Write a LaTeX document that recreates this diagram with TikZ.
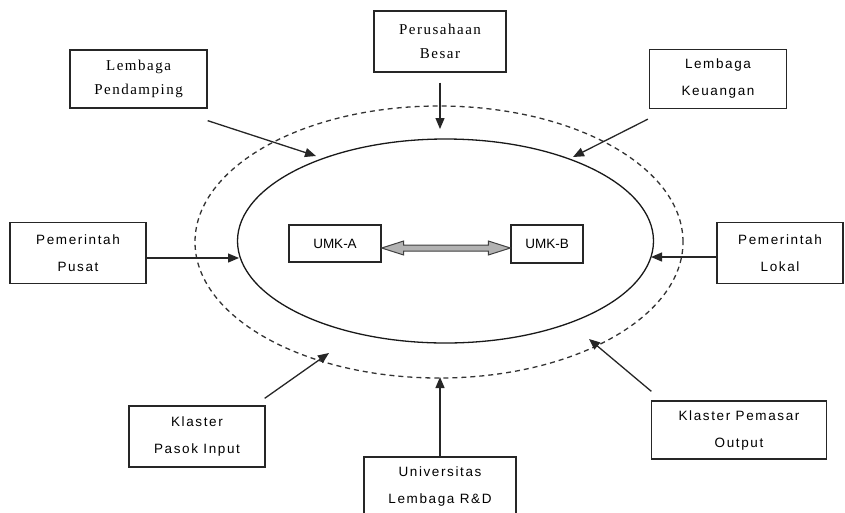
\documentclass[tikz,border=0pt]{standalone}
\usepackage{fontspec}
\setmainfont{Liberation Serif}
\newfontfamily\boxsans[LetterSpace=12]{Liberation Sans}
\newfontfamily\boxserif[LetterSpace=10]{Liberation Serif}
\usetikzlibrary{arrows.meta,shapes.geometric,calc}

\tikzset{
  box/.style={draw=black!85, line width=1.3pt, rectangle, inner sep=0pt,
    align=center, text=black, font=\boxsans\fontsize{13.5}{27}\selectfont},
  serifbox/.style={box, font=\boxserif\fontsize{15}{24}\selectfont},
  umk/.style={box, font=\fontspec{Liberation Sans}\fontsize{13.5}{16}\selectfont},
  ring/.style={draw=black!90, line width=1.3pt, ellipse, inner sep=0pt},
  outerring/.style={draw=black!80, line width=1.3pt, ellipse, inner sep=0pt,
    dash pattern=on 5pt off 4pt},
  arr/.style={draw=black!85, line width=1.3pt,
    -{Triangle[length=11pt,width=9pt]}},
  twoway/.style={draw=black!75, line width=1pt, fill=black!30, line join=miter}
}

\begin{document}
\begin{tikzpicture}[x=1pt,y=-1pt]
  \useasboundingbox (0,0) rectangle (845,512);

  % the two rings round the UMK pair
  \node[outerring, minimum width=488pt, minimum height=272pt] (outer) at (439,242) {};
  \node[ring, minimum width=416pt, minimum height=204pt] (inner) at (445.5,241) {};

  % actors
  \node[serifbox, minimum width=137pt, minimum height=58pt] (lp) at (138.5,79) {Lembaga\\Pendamping};
  \node[serifbox, minimum width=132pt, minimum height=61pt] (pb) at (440,41.5) {Perusahaan\\Besar};
  \node[box, minimum width=137pt, minimum height=59pt] (lk) at (718,79) {Lembaga\\Keuangan};
  \node[box, minimum width=136pt, minimum height=61pt] (pp) at (78,253) {Pemerintah\\Pusat};
  \node[box, minimum width=126pt, minimum height=61pt] (pl) at (780,253) {Pemerintah\\Lokal};
  \node[box, minimum width=136pt, minimum height=61pt] (kpi) at (197,436.5) {Klaster\\Pasok Input};
  \node[box, minimum width=152pt, minimum height=58pt] (uni) at (440,486) {Universitas\\Lembaga R\&D};
  \node[box, minimum width=175pt, minimum height=58pt] (kpo) at (739,430) {Klaster Pemasar\\Output};

  % the UMK pair
  \node[umk, minimum width=92pt, minimum height=37pt] (ua) at (335,243.5) {UMK-A};
  \node[umk, minimum width=72pt, minimum height=38pt] (ub) at (547,244) {UMK-B};

  % two-way block arrow between the UMKs
  \coordinate (la) at ($(ua.east)+(0,4.5)$);
  \coordinate (rb) at ($(ub.west)+(0,4)$);
  \path[twoway] (la) -- ($(la)+(22,-7)$) -- ($(la)+(22,-3)$)
    -- ($(rb)+(-22,-3)$) -- ($(rb)+(-22,-7)$) -- (rb)
    -- ($(rb)+(-22,7)$) -- ($(rb)+(-22,3)$)
    -- ($(la)+(22,3)$) -- ($(la)+(22,7)$) -- cycle;

  % arrow targets on the rings
  \coordinate (tlp) at (316,156);
  \coordinate (tpb) at (440,129);
  \coordinate (tlk) at (573,157);
  \coordinate (tpp) at (239,258);
  \coordinate (tpl) at (651,257);
  \coordinate (tkpi) at (329,353);
  \coordinate (tuni) at (440,377);
  \coordinate (tkpo) at (589,339);

  % influences on the pair
  \draw[arr] ([shift={(0,12)}]lp.south east) -- (tlp);
  \draw[arr] ([shift={(0,10)}]pb.south) -- (tpb);
  \draw[arr] ([shift={(-1,10)}]lk.south west) -- (tlk);
  \draw[arr] ([shift={(0,5)}]pp.east) -- (tpp);
  \draw[arr] ([shift={(0,4)}]pl.west) -- (tpl);
  \draw[arr] ([shift={(-1,-7)}]kpi.north east) -- (tkpi);
  \draw[arr] (uni.north) -- (tuni);
  \draw[arr] ([shift={(0.5,-9)}]kpo.north west) -- (tkpo);
\end{tikzpicture}
\end{document}
